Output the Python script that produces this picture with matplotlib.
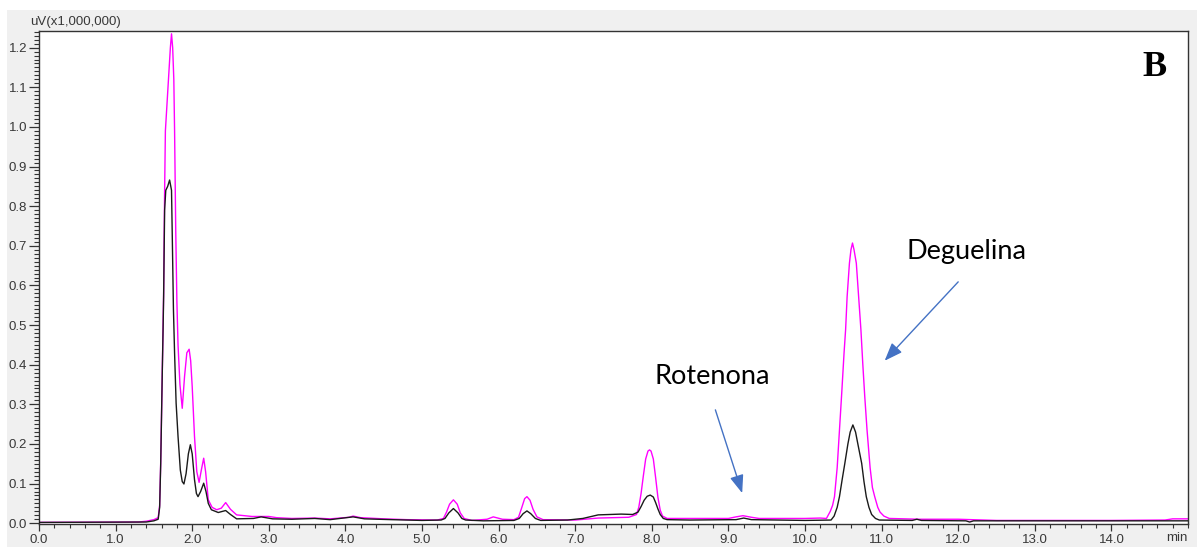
import matplotlib
matplotlib.use("Agg")
import matplotlib.pyplot as plt
from matplotlib.patches import Rectangle
from matplotlib.ticker import MultipleLocator, FormatStrFormatter

# ---- data (time in min, signal in uV x 1,000,000) ----
magenta_t = [0.00, 1.30, 1.40, 1.50, 1.556, 1.575, 1.589, 1.61, 1.62, 1.627, 1.64, 1.65, 1.69,
             1.715, 1.73, 1.745, 1.76, 1.77, 1.785, 1.80, 1.815, 1.84, 1.87, 1.90, 1.93, 1.96,
             1.98, 2.00, 2.03, 2.06, 2.09, 2.12, 2.15, 2.175, 2.21, 2.26, 2.32, 2.38, 2.437,
             2.50, 2.58, 2.78, 3.00, 3.10, 3.30, 3.60, 3.80, 4.05,
             4.10, 4.20, 4.50, 4.80, 5.20, 5.28, 5.32, 5.36, 5.41, 5.46, 5.50, 5.55, 5.65,
             5.85, 5.93, 6.05, 6.20, 6.26, 6.30, 6.34, 6.37, 6.41, 6.45, 6.50, 6.58,
             7.00, 7.30, 7.70, 7.80, 7.83, 7.86, 7.89, 7.92, 7.95, 7.97, 7.99, 8.02, 8.05,
             8.08, 8.11, 8.14, 8.20, 8.50, 9.00, 9.10, 9.19, 9.30, 9.40, 10.00, 10.20,
             10.28, 10.33, 10.36, 10.385, 10.42, 10.45, 10.48, 10.51, 10.53, 10.55, 10.58,
             10.60, 10.62, 10.64, 10.67, 10.70, 10.73, 10.755, 10.78, 10.81, 10.85, 10.88,
             10.91, 10.95, 10.98, 11.03, 11.10, 11.50, 12.00, 12.50, 13.00, 14.00, 14.70,
             14.80, 15.00]
magenta_v = [0.002, 0.003, 0.005, 0.009, 0.014, 0.045, 0.155, 0.39, 0.50, 0.58, 0.84, 0.99, 1.12,
             1.20, 1.235, 1.20, 1.12, 0.99, 0.74, 0.56, 0.45, 0.35, 0.29, 0.37, 0.43, 0.439,
             0.41, 0.345, 0.219, 0.13, 0.103, 0.135, 0.164, 0.13, 0.059, 0.040, 0.034, 0.038, 0.052,
             0.035, 0.021, 0.017, 0.017, 0.014, 0.012, 0.013, 0.011, 0.015,
             0.018, 0.014, 0.011, 0.009, 0.008, 0.012, 0.028, 0.048, 0.059, 0.048, 0.026, 0.012, 0.007,
             0.010, 0.016, 0.010, 0.009, 0.015, 0.038, 0.062, 0.067, 0.058, 0.035, 0.016, 0.009,
             0.008, 0.013, 0.015, 0.022, 0.040, 0.075, 0.120, 0.162, 0.182, 0.185, 0.182, 0.162, 0.115,
             0.065, 0.033, 0.018, 0.012, 0.012, 0.012, 0.016, 0.019, 0.015, 0.012, 0.012, 0.013,
             0.012, 0.030, 0.045, 0.067, 0.140, 0.235, 0.330, 0.430, 0.488, 0.572, 0.656,
             0.690, 0.707, 0.690, 0.656, 0.572, 0.488, 0.400, 0.320, 0.235, 0.140, 0.090,
             0.067, 0.040, 0.028, 0.018, 0.012, 0.010, 0.010, 0.007, 0.007, 0.007, 0.008,
             0.011, 0.011]

black_t = [0.00, 1.40, 1.50, 1.556, 1.575, 1.589, 1.61, 1.62, 1.627, 1.64, 1.655, 1.68, 1.705,
           1.73, 1.74, 1.755, 1.77, 1.79, 1.815, 1.845, 1.87, 1.892, 1.92, 1.95, 1.976, 2.00,
           2.03, 2.055, 2.076, 2.11, 2.15, 2.18, 2.21, 2.25, 2.34, 2.437, 2.50, 2.58, 2.80,
           2.90, 3.05, 3.30, 3.60, 3.80, 4.10, 4.25, 4.60, 5.00, 5.25, 5.30, 5.35, 5.41,
           5.47, 5.52, 5.57, 5.80, 6.20, 6.27, 6.32, 6.37, 6.42, 6.48, 6.55, 6.90, 7.10,
           7.30, 7.60, 7.75, 7.82, 7.86, 7.90, 7.94, 7.98, 8.02, 8.05, 8.08, 8.11, 8.15,
           8.20, 8.50, 9.10, 9.20, 9.30, 10.00, 10.34, 10.38, 10.42, 10.45, 10.485, 10.52,
           10.56, 10.59, 10.625, 10.66, 10.69, 10.74, 10.77, 10.80, 10.835, 10.87, 10.92,
           10.97, 11.40, 11.46, 11.52, 12.10, 12.15, 12.20, 13.00, 15.00]
black_v = [0.002, 0.003, 0.006, 0.010, 0.040, 0.150, 0.387, 0.49, 0.572, 0.79, 0.84, 0.85, 0.866,
           0.84, 0.723, 0.54, 0.429, 0.303, 0.219, 0.134, 0.105, 0.099, 0.125, 0.175, 0.198, 0.175,
           0.11, 0.075, 0.067, 0.080, 0.101, 0.080, 0.050, 0.034, 0.027, 0.032, 0.022, 0.011, 0.012,
           0.016, 0.011, 0.010, 0.012, 0.009, 0.016, 0.011, 0.009, 0.007, 0.008, 0.012, 0.026, 0.037,
           0.026, 0.012, 0.008, 0.006, 0.007, 0.012, 0.024, 0.031, 0.024, 0.012, 0.007, 0.008, 0.012,
           0.021, 0.023, 0.022, 0.028, 0.042, 0.058, 0.068, 0.071, 0.066, 0.052, 0.036, 0.022, 0.012,
           0.009, 0.008, 0.009, 0.013, 0.009, 0.007, 0.008, 0.018, 0.040, 0.067, 0.110, 0.151,
           0.200, 0.230, 0.248, 0.230, 0.200, 0.151, 0.105, 0.067, 0.040, 0.022, 0.012,
           0.008, 0.007, 0.010, 0.007, 0.006, 0.003, 0.006, 0.006, 0.006]

x_ticks = [0.0, 1.0, 2.0, 3.0, 4.0, 5.0, 6.0, 7.0, 8.0, 9.0, 10.0, 11.0, 12.0, 13.0, 14.0]
y_ticks = [0.0, 0.1, 0.2, 0.3, 0.4, 0.5, 0.6, 0.7, 0.8, 0.9, 1.0, 1.1, 1.2]
y_unit_label = "uV(x1,000,000)"
x_unit_label = "min"
panel_label = "B"
ann_rot = "Rotenona"
ann_deg = "Deguelina"

W, H = 1202, 547
fig = plt.figure(figsize=(W / 100, H / 100), dpi=100)
fig.patch.set_facecolor("white")
fig.patches.append(Rectangle((7 / W, 0), (1197 - 7) / W, (H - 10) / H,
                             transform=fig.transFigure, facecolor="#f0f0f0",
                             edgecolor="none", zorder=-10))

ax = fig.add_axes([39 / W, 1 - 524 / H, (1188 - 39) / W, (524 - 31) / H])
ax.set_zorder(1)
ax.set_facecolor("white")

ax.plot(magenta_t, magenta_v, color="#ff00ff", lw=1.0, zorder=2)
ax.plot(black_t, black_v, color="#1a1a1a", lw=1.0, zorder=3)

ax.set_xlim(0, 15.0)
ax.set_ylim(-0.002, 1.242)
ax.set_xticks(x_ticks)
ax.set_yticks(y_ticks)
ax.xaxis.set_minor_locator(MultipleLocator(0.2))
ax.yaxis.set_minor_locator(MultipleLocator(0.01))
ax.xaxis.set_major_formatter(FormatStrFormatter("%.1f"))
ax.yaxis.set_major_formatter(FormatStrFormatter("%.1f"))

tick_font = dict(family="Liberation Sans", size=9.5)
for lab in ax.get_xticklabels() + ax.get_yticklabels():
    lab.set_fontfamily("Liberation Sans")
    lab.set_fontsize(9.5)
ax.tick_params(axis="both", which="major", direction="out", colors="#333333",
               labelcolor="#383838", width=0.9)
ax.tick_params(axis="both", which="minor", direction="out", colors="#333333", width=0.8)
ax.tick_params(axis="x", which="major", length=5, pad=2)
ax.tick_params(axis="x", which="minor", length=3)
ax.tick_params(axis="y", which="major", length=7, pad=1.5)
ax.tick_params(axis="y", which="minor", length=3.5)
for s in ax.spines.values():
    s.set_color("#333333")
    s.set_linewidth(1.0)

fig.text(30 / W, 1 - 22 / H, y_unit_label, ha="left", va="center",
         color="#383838", **tick_font)
fig.text(1188 / W, 1 - 538 / H, x_unit_label, ha="right", va="center",
         color="#383838", **tick_font)

ax.text(14.56, 1.151, panel_label, ha="center", va="center",
        family="Liberation Serif", weight="bold", fontsize=26, color="black")

arrow_col = "#4472c4"
ax.annotate("", xy=(9.18, 0.076), xytext=(8.83, 0.286),
            arrowprops=dict(arrowstyle="-|>,head_length=1.1,head_width=0.42",
                            color=arrow_col, lw=1.0, shrinkA=0, shrinkB=0))
ax.annotate("", xy=(11.04, 0.41), xytext=(12.0, 0.609),
            arrowprops=dict(arrowstyle="-|>,head_length=1.1,head_width=0.42",
                            color=arrow_col, lw=1.0, shrinkA=0, shrinkB=0))
ax.text(8.79, 0.369, ann_rot, ha="center", va="center", family="Lato",
        fontsize=19.5, color="black")
ax.text(12.11, 0.685, ann_deg, ha="center", va="center", family="Lato",
        fontsize=19.5, color="black")

fig.savefig("out.png", dpi=100)
